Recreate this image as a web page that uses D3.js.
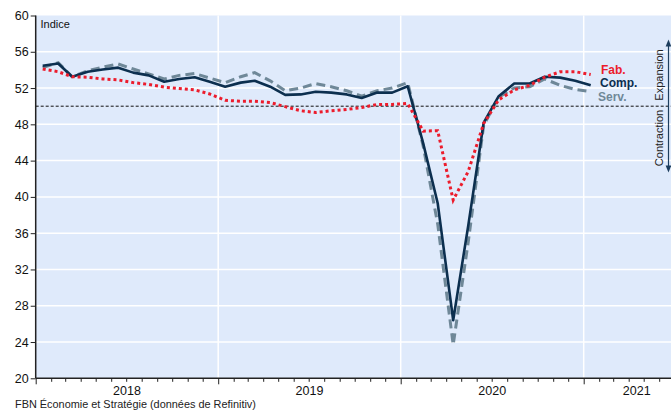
<!DOCTYPE html>
<html>
<head>
<meta charset="utf-8">
<script src="https://cdn.jsdelivr.net/npm/d3@7"></script>
<style>
  html, body { margin: 0; padding: 0; background: #ffffff; }
  svg { display: block; font-family: "Liberation Sans", Arial, sans-serif; }
</style>
</head>
<body>
<svg id="chart" width="671" height="415"></svg>
<script>
// ---- Data (Global PMI, monthly) ----
const months = [
  "2018-01","2018-02","2018-03","2018-04","2018-05","2018-06","2018-07","2018-08","2018-09","2018-10","2018-11","2018-12",
  "2019-01","2019-02","2019-03","2019-04","2019-05","2019-06","2019-07","2019-08","2019-09","2019-10","2019-11","2019-12",
  "2020-01","2020-02","2020-03","2020-04","2020-05","2020-06","2020-07","2020-08","2020-09","2020-10","2020-11","2020-12",
  "2021-01"
];
const fab = [54.1, 53.8, 53.25, 53.2, 53.0, 52.9, 52.6, 52.4, 52.1, 51.95, 51.8, 51.35,
             50.65, 50.55, 50.55, 50.4, 49.95, 49.5, 49.3, 49.5, 49.65, 49.85, 50.2, 50.2,
             50.3, 47.25, 47.3, 39.65, 42.8, 48.1, 50.7, 51.8, 52.3, 53.2, 53.8, 53.8, 53.5];
const comp = [54.45, 54.7, 53.25, 53.8, 54.05, 54.25, 53.7, 53.4, 52.7, 53.0, 53.2, 52.7,
              52.15, 52.6, 52.8, 52.15, 51.25, 51.3, 51.6, 51.5, 51.3, 50.9, 51.5, 51.5,
              52.2, 45.9, 39.3, 26.4, 36.8, 48.2, 51.1, 52.5, 52.5, 53.25, 53.15, 52.8, 52.3];
const serv = [54.25, 54.8, 53.25, 53.9, 54.3, 54.65, 54.1, 53.55, 53.0, 53.4, 53.6, 53.1,
              52.6, 53.25, 53.7, 52.8, 51.7, 52.0, 52.5, 52.15, 51.7, 51.1, 51.7, 52.0,
              52.6, 45.6, 37.0, 23.7, 35.0, 47.9, 51.0, 52.0, 52.15, 53.0, 52.3, 51.85, 51.6];
const yTicks = [20, 24, 28, 32, 36, 40, 44, 48, 52, 56, 60];
const yearLabels = ["2018", "2019", "2020", "2021"];
const seriesNames = ["Serv.", "Comp.", "Fab."];
const refLevel = 50;

(function () {
// ---- Layout ----
const svg = d3.select("#chart");
const W = 671;
const pLeft = 35.7, pTop = 15.5, pBottom = 378.3;
const parse = d3.timeParse("%Y-%m");
const xStart = new Date(2018, 0, 1), xEnd = new Date(2021, 7, 1);
const x = d3.scaleTime().domain([xStart, xEnd]).range([pLeft, 689.7]);
const y = d3.scaleLinear().domain([20, 60]).range([pBottom, pTop]);
const mid = m => { const d = parse(m); return new Date(d.getFullYear(), d.getMonth(), 15); };

// background
svg.append("rect").attr("x", pLeft).attr("y", pTop).attr("width", W - pLeft).attr("height", pBottom - pTop)
  .attr("fill", "#dfeafb");

// horizontal grid
svg.append("g").selectAll("line").data(yTicks.filter(t => t > 20 && t < 60)).join("line")
  .attr("x1", pLeft).attr("x2", W).attr("y1", d => y(d)).attr("y2", d => y(d))
  .attr("stroke", "#ffffff").attr("stroke-width", 1.5);

// vertical year grid
const yearStarts = yearLabels.map(s => new Date(+s, 0, 1));
svg.append("g").selectAll("line").data(yearStarts.slice(1)).join("line")
  .attr("x1", d => x(d)).attr("x2", d => x(d)).attr("y1", pTop).attr("y2", pBottom)
  .attr("stroke", "#ffffff").attr("stroke-width", 1.5);

// reference line at 50
svg.append("line").attr("x1", pLeft).attr("x2", W).attr("y1", y(refLevel)).attr("y2", y(refLevel))
  .attr("stroke", "#111").attr("stroke-width", 1).attr("stroke-dasharray", "3,2");

// series lines
const makeLine = vals => d3.line().x((d, i) => x(mid(months[i]))).y(d => y(d))(vals);
svg.append("path").attr("d", makeLine(serv)).attr("fill", "none")
  .attr("stroke", "#6f8898").attr("stroke-width", 3).attr("stroke-dasharray", "9,5");
svg.append("path").attr("d", makeLine(comp)).attr("fill", "none")
  .attr("stroke", "#0c2f4f").attr("stroke-width", 2.6).attr("stroke-linejoin", "round");
svg.append("path").attr("d", makeLine(fab)).attr("fill", "none")
  .attr("stroke", "#ec1c2c").attr("stroke-width", 3).attr("stroke-dasharray", "3,3");

// y axis
const yAxis = svg.append("g").attr("transform", `translate(${pLeft},0)`)
  .call(d3.axisLeft(y).tickValues(yTicks).tickSize(5).tickPadding(2).tickFormat(d3.format("d")));
yAxis.select(".domain").attr("stroke", "#222").attr("stroke-width", 1.5).attr("d", `M0,${pTop}V${pBottom}`);
yAxis.selectAll(".tick line").attr("stroke", "#222");
yAxis.selectAll(".tick text").attr("font-size", 12.5).attr("fill", "#111")
  .attr("font-family", "Liberation Sans, Arial, sans-serif");

// x axis: month ticks
const monthTicks = d3.timeMonth.range(xStart, xEnd);
const xAxis = svg.append("g").attr("transform", `translate(0,${pBottom})`)
  .call(d3.axisBottom(x).tickValues(monthTicks).tickSize(3.5).tickFormat(""));
xAxis.select(".domain").attr("stroke", "#222").attr("stroke-width", 1.5).attr("d", `M${pLeft},0H${W}`);
xAxis.selectAll(".tick line").attr("stroke", "#222")
  .attr("y2", d => d.getMonth() === 0 ? 6 : 3.5);

// year labels centered on each year's visible span
svg.append("g").selectAll("text").data(yearLabels).join("text")
  .attr("x", (d, i) => {
    const a = x(yearStarts[i]);
    const b = Math.min(x(new Date(+d + 1, 0, 1)), x(xEnd));
    return (a + b) / 2;
  })
  .attr("y", 395).attr("text-anchor", "middle").attr("font-size", 12.5).attr("fill", "#111")
  .text(d => d);

// Indice label
svg.append("text").attr("x", 40.5).attr("y", 27.5).attr("font-size", 11).attr("fill", "#111").text("Indice");

// legend labels at line ends
const legendColors = { "Fab.": "#ec1c2c", "Comp.": "#0c2f4f", "Serv.": "#6f8898" };
const legendY = { "Fab.": 74, "Comp.": 87, "Serv.": 100.5 };
const legendX = { "Fab.": 601, "Comp.": 600, "Serv.": 598 };
svg.append("g").selectAll("text").data(seriesNames).join("text")
  .attr("x", d => legendX[d]).attr("y", d => legendY[d])
  .attr("font-size", 12).attr("font-weight", "bold").attr("fill", d => legendColors[d]).text(d => d);

// Expansion / Contraction arrow
const arrowColor = "#1d3e5e";
const defs = svg.append("defs");
defs.append("marker").attr("id", "ah").attr("viewBox", "0 0 10 10").attr("refX", 5).attr("refY", 5)
  .attr("markerWidth", 6).attr("markerHeight", 6).attr("orient", "auto-start-reverse")
  .append("path").attr("d", "M0,1 L10,5 L0,9 Z").attr("fill", arrowColor);
svg.append("line").attr("x1", 668.5).attr("x2", 668.5).attr("y1", 43).attr("y2", 169)
  .attr("stroke", arrowColor).attr("stroke-width", 1.2)
  .attr("marker-start", "url(#ah)").attr("marker-end", "url(#ah)");
svg.append("text").attr("transform", "translate(663,75) rotate(-90)").attr("text-anchor", "middle")
  .attr("font-size", 11).attr("fill", "#222").text("Expansion");
svg.append("text").attr("transform", "translate(663,138) rotate(-90)").attr("text-anchor", "middle")
  .attr("font-size", 11).attr("fill", "#222").text("Contraction");

// source
svg.append("text").attr("x", 15).attr("y", 408).attr("font-size", 10.9).attr("fill", "#222")
  .text("FBN Économie et Stratégie (données de Refinitiv)");
})();
</script>
</body>
</html>
